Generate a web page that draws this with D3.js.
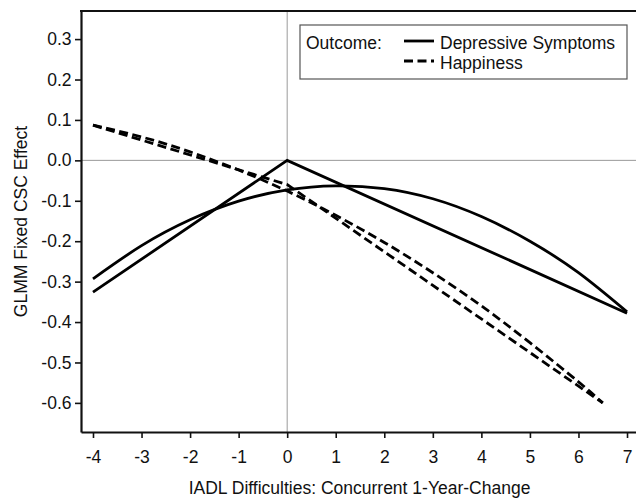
<!DOCTYPE html>
<html>
<head>
<meta charset="utf-8">
<script src="https://cdn.jsdelivr.net/npm/d3@7"></script>
<style>
  html, body { margin: 0; padding: 0; background: #fff; }
  svg { display: block; }
  text { font-family: Arial, "Liberation Sans", sans-serif; fill: #111; }
</style>
</head>
<body>
<svg id="chart" width="636" height="499"></svg>
<script>
// ---- data ----
const xTicks = [-4, -3, -2, -1, 0, 1, 2, 3, 4, 5, 6, 7];
const yTicks = [-0.6, -0.5, -0.4, -0.3, -0.2, -0.1, 0.0, 0.1, 0.2, 0.3];

// Depressive Symptoms, piecewise-linear model
const depLinX = [-4, 0, 7];
const depLinY = [-0.326, 0.0, -0.378];
// Depressive Symptoms, curved model
const depCurX = [-4, -3, -2, -1, 0, 1, 2, 3, 4, 5, 6, 7];
const depCurY = [-0.293, -0.211, -0.147, -0.101, -0.073, -0.063, -0.070, -0.095, -0.139, -0.200, -0.278, -0.375];
// Happiness, piecewise-linear model
const hapLinX = [-4, 0, 6.5];
const hapLinY = [0.087, -0.060, -0.600];
// Happiness, curved model
const hapCurX = [-4, -3, -2, -1, 0, 1, 2, 3, 4, 5, 6, 6.5];
const hapCurY = [0.087, 0.058, 0.021, -0.024, -0.076, -0.136, -0.203, -0.278, -0.360, -0.451, -0.548, -0.600];

const legendTitle = "Outcome:";
const legendLabels = ["Depressive Symptoms", "Happiness"];
const xTitle = "IADL Difficulties: Concurrent 1-Year-Change";
const yTitle = "GLMM Fixed CSC Effect";

// ---- layout ----
const svg = d3.select("#chart");
const pL = 81, pR = 636, pT = 11, pB = 432;
const FS = 17.5;

const x = d3.scaleLinear().domain([-4.247, 7.185]).range([pL, pR]);
const y = d3.scaleLinear().domain([-0.672, 0.3695]).range([pB, pT]);

// reference lines
svg.append("line")
  .attr("x1", x(0)).attr("x2", x(0)).attr("y1", pT).attr("y2", pB)
  .attr("stroke", "#9a9a9a").attr("stroke-width", 1);
svg.append("line")
  .attr("x1", pL).attr("x2", pR).attr("y1", y(0)).attr("y2", y(0))
  .attr("stroke", "#9a9a9a").attr("stroke-width", 1);

// series
const lin = d3.line().x(d => x(d[0])).y(d => y(d[1]));
const cur = d3.line().x(d => x(d[0])).y(d => y(d[1])).curve(d3.curveNatural);
const zip = (a, b) => a.map((v, i) => [v, b[i]]);

const series = [
  { pts: zip(depLinX, depLinY), gen: lin, dash: null },
  { pts: zip(depCurX, depCurY), gen: cur, dash: null },
  { pts: zip(hapLinX, hapLinY), gen: lin, dash: "9,4.5" },
  { pts: zip(hapCurX, hapCurY), gen: cur, dash: "9,4.5" }
];
series.forEach(s => {
  svg.append("path")
    .attr("d", s.gen(s.pts))
    .attr("fill", "none")
    .attr("stroke", "#000")
    .attr("stroke-width", 2.8)
    .attr("stroke-dasharray", s.dash);
});

// axes
const fmtY = d => d3.format(".1f")(d).replace("\u2212", "-");
const fmtX = d => String(d);

const gx = svg.append("g").attr("transform", `translate(0,${pB})`)
  .call(d3.axisBottom(x).tickValues(xTicks).tickFormat(fmtX).tickSize(6).tickPadding(13).tickSizeOuter(0));
const gy = svg.append("g").attr("transform", `translate(${pL},0)`)
  .call(d3.axisLeft(y).tickValues(yTicks).tickFormat(fmtY).tickSize(6).tickPadding(3.5).tickSizeOuter(0));

[gx, gy].forEach(g => {
  g.select(".domain").attr("stroke", "#111").attr("stroke-width", 2.2);
  g.selectAll(".tick line").attr("stroke", "#111").attr("stroke-width", 1.6);
  g.selectAll(".tick text").attr("font-size", FS).attr("fill", "#111")
    .style("font-family", 'Arial, "Liberation Sans", sans-serif');
});

// top frame line
svg.append("line")
  .attr("x1", pL - 1).attr("x2", pR).attr("y1", pT).attr("y2", pT)
  .attr("stroke", "#111").attr("stroke-width", 2.2);

// titles
svg.append("text")
  .attr("x", (pL + pR) / 2 + 1).attr("y", 494)
  .attr("text-anchor", "middle").attr("font-size", FS)
  .text(xTitle);
svg.append("text")
  .attr("transform", `translate(26.5,${(pT + pB) / 2}) rotate(-90)`)
  .attr("text-anchor", "middle").attr("font-size", FS)
  .text(yTitle);

// legend
const lg = svg.append("g");
lg.append("rect")
  .attr("x", 300).attr("y", 25).attr("width", 327).attr("height", 54)
  .attr("fill", "#fff").attr("stroke", "#555").attr("stroke-width", 1.2);
lg.append("text").attr("x", 306).attr("y", 48.5).attr("font-size", FS).text(legendTitle);
const dashes = [null, "9,4.5"];
legendLabels.forEach((lab, i) => {
  const ly = 41 + i * 20;
  lg.append("line")
    .attr("x1", 404).attr("x2", 434).attr("y1", ly).attr("y2", ly)
    .attr("stroke", "#000").attr("stroke-width", 2.8)
    .attr("stroke-dasharray", dashes[i]);
  lg.append("text").attr("x", 440).attr("y", 48.5 + i * 20)
    .attr("font-size", FS).text(lab);
});
</script>
</body>
</html>
